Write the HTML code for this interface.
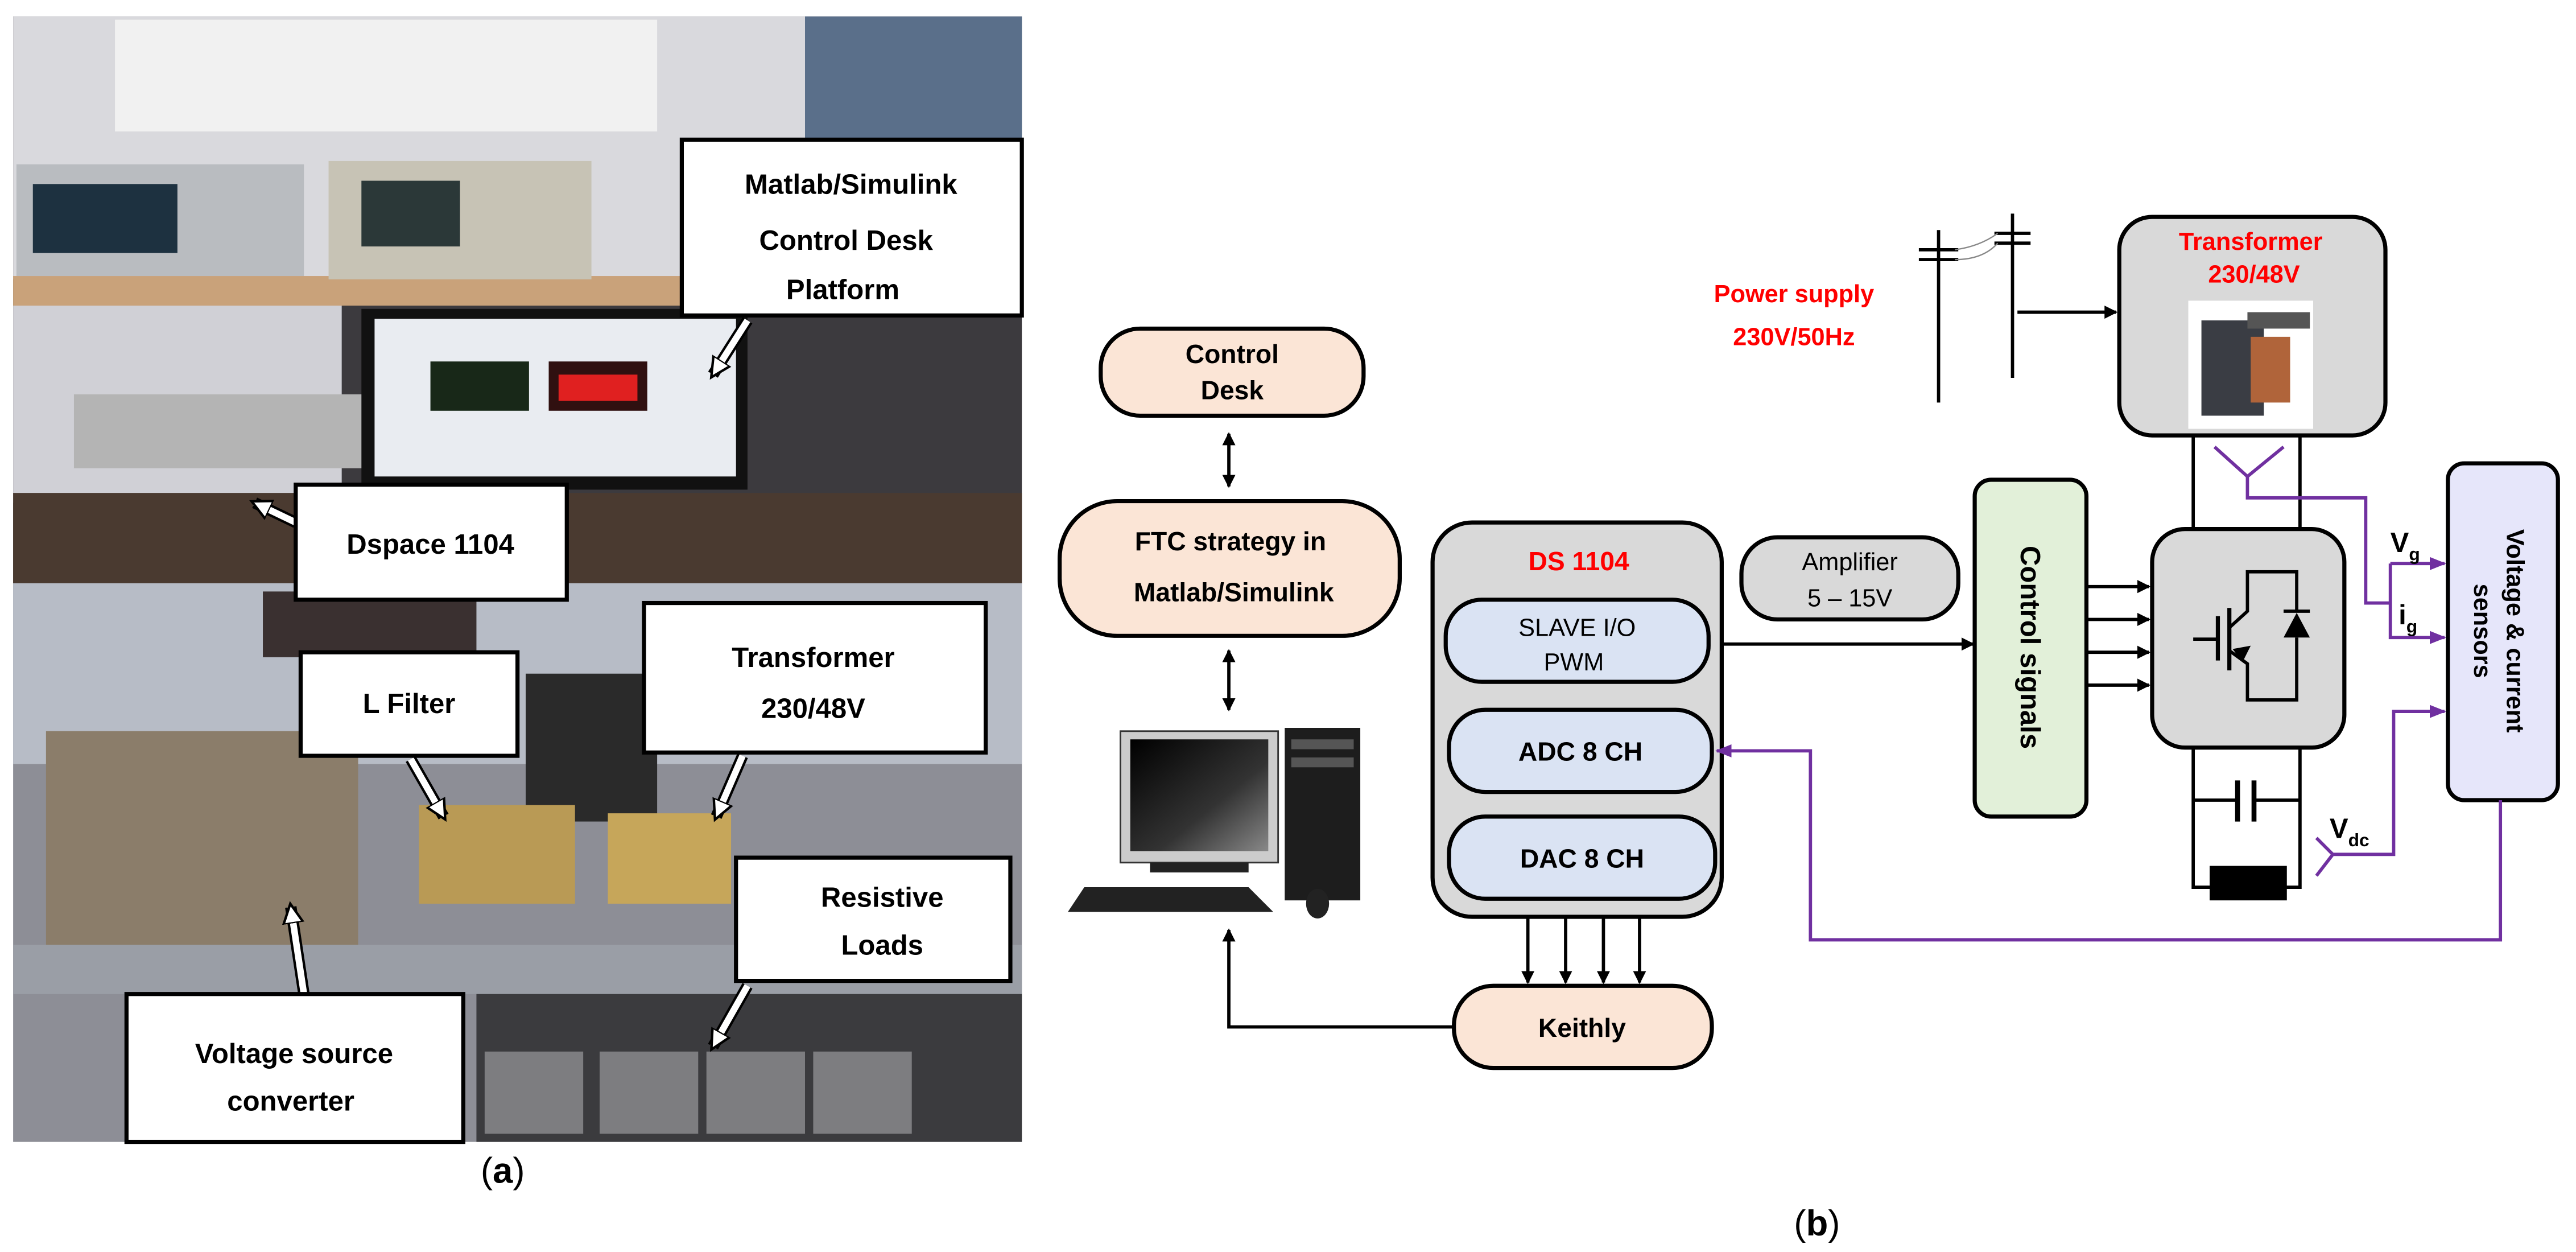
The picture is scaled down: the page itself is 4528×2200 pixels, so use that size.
<!DOCTYPE html>
<html><head><meta charset="utf-8"><style>
html,body{margin:0;padding:0;background:#fff;}
svg{display:block;}
text{font-family:"Liberation Sans",sans-serif;}
</style></head><body>
<svg width="4528" height="2200" viewBox="0 0 1568 762" preserveAspectRatio="none" xmlns="http://www.w3.org/2000/svg">
<defs>
<marker id="a" markerWidth="8" markerHeight="8" refX="7" refY="4" orient="auto-start-reverse" markerUnits="userSpaceOnUse"><path d="M0,0 L8,4 L0,8 z" fill="#000"/></marker>
<marker id="p" markerWidth="10" markerHeight="8" refX="9" refY="4" orient="auto" markerUnits="userSpaceOnUse"><path d="M0,0 L10,4 L0,8 z" fill="#7030a0"/></marker>
<marker id="w" markerWidth="14" markerHeight="14" refX="10" refY="7" orient="auto" markerUnits="userSpaceOnUse"><path d="M0,1 L12,7 L0,13 z" fill="#fff" stroke="#000" stroke-width="1.5"/></marker>
<linearGradient id="mon" x1="0" y1="0" x2="1" y2="1"><stop offset="0" stop-color="#000"/><stop offset="0.6" stop-color="#333"/><stop offset="1" stop-color="#888"/></linearGradient>
</defs>
<!-- photo (a) top -->
<rect x="8" y="10" width="614" height="345" fill="#3c3a3e"/>
<rect x="8" y="10" width="614" height="160" fill="#d9d9dd"/>
<rect x="70" y="12" width="330" height="68" fill="#f1f1f1"/>
<rect x="490" y="10" width="132" height="160" fill="#5a6f8a"/>
<rect x="8" y="168" width="614" height="18" fill="#c9a27a"/>
<rect x="10" y="100" width="175" height="68" fill="#b9bcc0"/>
<rect x="20" y="112" width="88" height="42" fill="#1d3140"/>
<rect x="200" y="98" width="160" height="72" fill="#c7c3b5"/>
<rect x="220" y="110" width="60" height="40" fill="#2b3838"/>
<rect x="8" y="186" width="200" height="120" fill="#d0d0d6"/>
<rect x="45" y="240" width="180" height="45" fill="#b4b4b4"/>
<rect x="220" y="188" width="235" height="110" fill="#111"/>
<rect x="228" y="194" width="220" height="96" fill="#e9ecf1"/>
<rect x="262" y="220" width="60" height="30" fill="#182818"/>
<rect x="334" y="220" width="60" height="30" fill="#301010"/>
<rect x="340" y="228" width="48" height="16" fill="#e02020"/>
<rect x="8" y="300" width="614" height="55" fill="#4a3a30"/>
<!-- photo (a) bottom -->
<rect x="8" y="355" width="614" height="340" fill="#8d8e96"/>
<rect x="8" y="355" width="614" height="110" fill="#b7bcc6"/>
<rect x="160" y="360" width="130" height="40" fill="#3a3030"/>
<rect x="28" y="445" width="190" height="150" fill="#8b7d6a"/>
<rect x="320" y="410" width="80" height="90" fill="#2a2a2a"/>
<rect x="255" y="490" width="95" height="60" fill="#b99a55"/>
<rect x="370" y="495" width="75" height="55" fill="#c6a65a"/>
<rect x="8" y="575" width="614" height="30" fill="#9a9ea6"/>
<rect x="290" y="605" width="332" height="90" fill="#3b3b3e"/>
<rect x="295" y="640" width="60" height="50" fill="#7d7d80"/>
<rect x="365" y="640" width="60" height="50" fill="#7d7d80"/>
<rect x="430" y="640" width="60" height="50" fill="#7d7d80"/>
<rect x="495" y="640" width="60" height="50" fill="#7d7d80"/>
<!-- white arrows -->
<g stroke-linecap="butt">
<g stroke="#000" stroke-width="7">
<path d="M455,195 L434,228"/><path d="M180,318 L155,306"/><path d="M250,462 L270,497"/>
<path d="M452,460 L436,497"/><path d="M455,600 L434,637"/><path d="M185,605 L177,552"/>
</g>
<g stroke="#fff" stroke-width="4">
<path d="M455,195 L434,228" marker-end="url(#w)"/><path d="M180,318 L155,306" marker-end="url(#w)"/><path d="M250,462 L270,497" marker-end="url(#w)"/>
<path d="M452,460 L436,497" marker-end="url(#w)"/><path d="M455,600 L434,637" marker-end="url(#w)"/><path d="M185,605 L177,552" marker-end="url(#w)"/>
</g>
</g>
<!-- label boxes -->
<g fill="#fff" stroke="#000" stroke-width="2.5">
<rect x="415" y="85" width="207" height="107"/>
<rect x="180" y="295" width="165" height="70"/>
<rect x="183" y="397" width="132" height="63"/>
<rect x="392" y="367" width="208" height="91"/>
<rect x="448" y="522" width="167" height="75"/>
<rect x="77" y="605" width="205" height="90"/>
</g>
<g font-size="17" font-weight="bold" text-anchor="middle" fill="#000">
<text x="518" y="118">Matlab/Simulink</text>
<text x="515" y="152">Control Desk</text>
<text x="513" y="182">Platform</text>
<text x="262" y="337">Dspace 1104</text>
<text x="249" y="434">L Filter</text>
<text x="495" y="406">Transformer</text>
<text x="495" y="437">230/48V</text>
<text x="537" y="552">Resistive</text>
<text x="537" y="581">Loads</text>
<text x="179" y="647">Voltage source</text>
<text x="177" y="676">converter</text>
</g>
<text x="306" y="720" font-size="22" text-anchor="middle" font-family="Liberation Serif,serif">(<tspan font-weight="bold">a</tspan>)</text>
<text x="1106" y="752" font-size="22" text-anchor="middle" font-family="Liberation Serif,serif">(<tspan font-weight="bold">b</tspan>)</text>

<!-- diagram (b) -->
<g stroke="#000" stroke-width="2" fill="none">
<line x1="748" y1="264" x2="748" y2="296" marker-end="url(#a)" marker-start="url(#a)"/>
<line x1="748" y1="396" x2="748" y2="432" marker-end="url(#a)" marker-start="url(#a)"/>
<polyline points="885,625 748,625 748,566" marker-end="url(#a)"/>
<line x1="930" y1="558" x2="930" y2="598" marker-end="url(#a)"/>
<line x1="953" y1="558" x2="953" y2="598" marker-end="url(#a)"/>
<line x1="976" y1="558" x2="976" y2="598" marker-end="url(#a)"/>
<line x1="998" y1="558" x2="998" y2="598" marker-end="url(#a)"/>
<line x1="1040" y1="392" x2="1201" y2="392" marker-end="url(#a)"/>
<line x1="1270" y1="357" x2="1308" y2="357" marker-end="url(#a)"/>
<line x1="1270" y1="377" x2="1308" y2="377" marker-end="url(#a)"/>
<line x1="1270" y1="397" x2="1308" y2="397" marker-end="url(#a)"/>
<line x1="1270" y1="417" x2="1308" y2="417" marker-end="url(#a)"/>
<line x1="1228" y1="190" x2="1288" y2="190" marker-end="url(#a)"/>
<line x1="1335" y1="265" x2="1335" y2="322"/>
<line x1="1400" y1="265" x2="1400" y2="322"/>
<polyline points="1335,455 1335,540 1400,540 1400,455"/>
<polyline points="1335,487 1362,487"/><polyline points="1372,487 1400,487"/>
<line x1="1362" y1="475" x2="1362" y2="500" stroke-width="3"/>
<line x1="1372" y1="475" x2="1372" y2="500" stroke-width="3"/>
<!-- poles -->
<line x1="1180" y1="140" x2="1180" y2="245"/>
<line x1="1225" y1="130" x2="1225" y2="230"/>
<line x1="1168" y1="152" x2="1192" y2="152"/><line x1="1168" y1="158" x2="1192" y2="158"/>
<line x1="1214" y1="142" x2="1236" y2="142"/><line x1="1214" y1="148" x2="1236" y2="148"/>
<path d="M1190,152 Q1205,150 1216,142" stroke-width="0.8" stroke="#888"/>
<path d="M1190,158 Q1207,158 1216,148" stroke-width="0.8" stroke="#888"/>
</g>
<!-- boxes -->
<g stroke="#000" stroke-width="2.5">
<rect x="670" y="200" width="160" height="53" rx="24" fill="#fbe5d6"/>
<rect x="645" y="305" width="207" height="82" rx="35" fill="#fbe5d6"/>
<rect x="872" y="318" width="176" height="240" rx="24" fill="#d9d9d9"/>
<rect x="880" y="365" width="160" height="50" rx="22" fill="#dae3f3"/>
<rect x="882" y="432" width="160" height="50" rx="22" fill="#dae3f3"/>
<rect x="882" y="497" width="162" height="50" rx="22" fill="#dae3f3"/>
<rect x="885" y="600" width="157" height="50" rx="24" fill="#fbe5d6"/>
<rect x="1060" y="327" width="132" height="50" rx="22" fill="#d9d9d9"/>
<rect x="1202" y="292" width="68" height="205" rx="10" fill="#e2f0d9"/>
<rect x="1310" y="322" width="117" height="133" rx="20" fill="#d9d9d9"/>
<rect x="1290" y="132" width="162" height="133" rx="20" fill="#d9d9d9"/>
<rect x="1490" y="282" width="67" height="205" rx="10" fill="#e6e6fa"/>
</g>
<rect x="1345" y="527" width="47" height="21" fill="#000"/>
<!-- transformer picture -->
<rect x="1332" y="183" width="76" height="78" fill="#fff"/>
<rect x="1340" y="195" width="38" height="58" fill="#3a3d44"/>
<rect x="1370" y="205" width="24" height="40" fill="#b0643a"/>
<rect x="1368" y="190" width="38" height="10" fill="#555"/>
<!-- IGBT symbol -->
<g stroke="#000" stroke-width="2" fill="none">
<line x1="1335" y1="389" x2="1350" y2="389"/>
<line x1="1350" y1="375" x2="1350" y2="402" stroke-width="2.5"/>
<line x1="1357" y1="370" x2="1357" y2="408" stroke-width="2.5"/>
<polyline points="1357,382 1368,372 1368,348 1398,348 1398,372"/>
<polyline points="1357,396 1368,404 1368,426 1398,426 1398,388"/>
<line x1="1390" y1="372" x2="1406" y2="372"/>
</g>
<path d="M1390,388 L1406,388 L1398,373 z" fill="#000"/>
<path d="M1359,395 L1370,393 L1365,403 z" fill="#000"/>
<!-- purple lines -->
<g stroke="#7030a0" stroke-width="2" fill="none">
<polyline points="1348,272 1368,290 1390,272"/>
<polyline points="1368,290 1368,303 1440,303 1440,367 1455,367"/>
<polyline points="1455,343 1488,343" marker-end="url(#p)"/>
<polyline points="1455,343 1455,388 1488,388" marker-end="url(#p)"/>
<polyline points="1410,510 1420,520 1410,533"/>
<polyline points="1420,520 1457,520 1457,433 1488,433" marker-end="url(#p)"/>
<polyline points="1522,487 1522,572 1102,572 1102,457 1045,457" marker-end="url(#p)"/>
</g>
<!-- computer -->
<rect x="682" y="445" width="96" height="80" fill="#ccc" stroke="#333"/>
<rect x="688" y="450" width="84" height="68" fill="url(#mon)"/>
<rect x="700" y="525" width="60" height="6" fill="#222"/>
<rect x="782" y="443" width="46" height="105" fill="#1d1d1d"/>
<rect x="786" y="450" width="38" height="6" fill="#555"/>
<rect x="786" y="461" width="38" height="6" fill="#555"/>
<polygon points="660,540 760,540 775,555 650,555" fill="#222"/>
<ellipse cx="802" cy="550" rx="7" ry="9" fill="#222"/>
<!-- texts -->
<g font-weight="bold" text-anchor="middle" fill="#000" font-size="16">
<text x="750" y="221">Control</text>
<text x="750" y="243">Desk</text>
<text x="749" y="335">FTC strategy in</text>
<text x="751" y="366">Matlab/Simulink</text>
<text x="961" y="347" fill="#ff0000">DS 1104</text>
<text x="960" y="387" font-weight="normal" font-size="15">SLAVE I/O</text>
<text x="958" y="408" font-weight="normal" font-size="15">PWM</text>
<text x="962" y="463">ADC 8 CH</text>
<text x="963" y="528">DAC 8 CH</text>
<text x="963" y="631">Keithly</text>
<text x="1126" y="347" font-weight="normal" font-size="15">Amplifier</text>
<text x="1126" y="369" font-weight="normal" font-size="15">5 – 15V</text>
<text x="1370" y="152" fill="#ff0000" font-size="15">Transformer</text>
<text x="1372" y="172" fill="#ff0000" font-size="15">230/48V</text>
<text x="1092" y="184" fill="#ff0000" font-size="15">Power supply</text>
<text x="1092" y="210" fill="#ff0000" font-size="15">230V/50Hz</text>
<text transform="translate(1230,394) rotate(90)" font-size="17">Control signals</text>
<text transform="translate(1526,384) rotate(90)" font-size="15">Voltage &amp; current</text>
<text transform="translate(1506,384) rotate(90)" font-size="15">sensors</text>
</g>
<g font-weight="bold" fill="#000">
<text x="1455" y="336" font-size="17">V<tspan font-size="11" dy="5">g</tspan></text>
<text x="1460" y="380" font-size="17">i<tspan font-size="11" dy="5">g</tspan></text>
<text x="1418" y="510" font-size="17">V<tspan font-size="11" dy="5">dc</tspan></text>
</g>
</svg>
</body></html>
